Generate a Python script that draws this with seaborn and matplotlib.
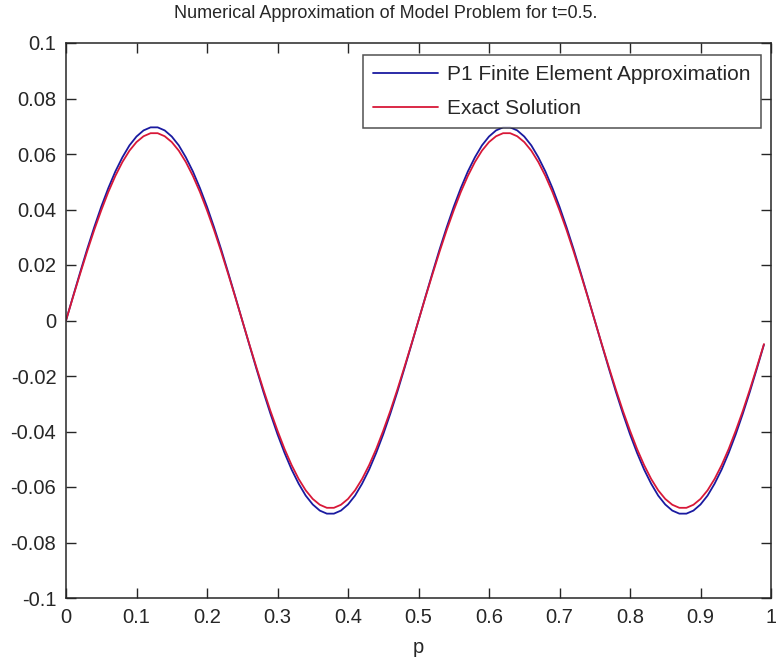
import numpy as np
import pandas as pd
import matplotlib
matplotlib.use("Agg")
import matplotlib.pyplot as plt
import seaborn as sns

# x nodes
x_vals = np.round(np.linspace(0.0, 0.99, 100), 2)

# P1 finite element approximation
fem_vals = [
    0.0000, 0.0087, 0.0173, 0.0257, 0.0336, 0.0410, 0.0477, 0.0537, 0.0588, 0.0631,
    0.0663, 0.0685, 0.0696, 0.0696, 0.0685, 0.0663, 0.0631, 0.0588, 0.0537, 0.0477,
    0.0410, 0.0336, 0.0257, 0.0173, 0.0087,
    0.0000, -0.0087, -0.0173, -0.0257, -0.0336, -0.0410, -0.0477, -0.0537, -0.0588, -0.0631,
    -0.0663, -0.0685, -0.0696, -0.0696, -0.0685, -0.0663, -0.0631, -0.0588, -0.0537, -0.0477,
    -0.0410, -0.0336, -0.0257, -0.0173, -0.0087,
    0.0000, 0.0087, 0.0173, 0.0257, 0.0336, 0.0410, 0.0477, 0.0537, 0.0588, 0.0631,
    0.0663, 0.0685, 0.0696, 0.0696, 0.0685, 0.0663, 0.0631, 0.0588, 0.0537, 0.0477,
    0.0410, 0.0336, 0.0257, 0.0173, 0.0087,
    0.0000, -0.0087, -0.0173, -0.0257, -0.0336, -0.0410, -0.0477, -0.0537, -0.0588, -0.0631,
    -0.0663, -0.0685, -0.0696, -0.0696, -0.0685, -0.0663, -0.0631, -0.0588, -0.0537, -0.0477,
    -0.0410, -0.0336, -0.0257, -0.0173, -0.0087,
]

# Exact solution
exact_vals = [
    0.0000, 0.0085, 0.0168, 0.0249, 0.0326, 0.0397, 0.0463, 0.0521, 0.0571, 0.0612,
    0.0643, 0.0664, 0.0675, 0.0675, 0.0664, 0.0643, 0.0612, 0.0571, 0.0521, 0.0463,
    0.0397, 0.0326, 0.0249, 0.0168, 0.0085,
    0.0000, -0.0085, -0.0168, -0.0249, -0.0326, -0.0397, -0.0463, -0.0521, -0.0571, -0.0612,
    -0.0643, -0.0664, -0.0675, -0.0675, -0.0664, -0.0643, -0.0612, -0.0571, -0.0521, -0.0463,
    -0.0397, -0.0326, -0.0249, -0.0168, -0.0085,
    0.0000, 0.0085, 0.0168, 0.0249, 0.0326, 0.0397, 0.0463, 0.0521, 0.0571, 0.0612,
    0.0643, 0.0664, 0.0675, 0.0675, 0.0664, 0.0643, 0.0612, 0.0571, 0.0521, 0.0463,
    0.0397, 0.0326, 0.0249, 0.0168, 0.0085,
    0.0000, -0.0085, -0.0168, -0.0249, -0.0326, -0.0397, -0.0463, -0.0521, -0.0571, -0.0612,
    -0.0643, -0.0664, -0.0675, -0.0675, -0.0664, -0.0643, -0.0612, -0.0571, -0.0521, -0.0463,
    -0.0397, -0.0326, -0.0249, -0.0168, -0.0085,
]

series_names = ["P1 Finite Element Approximation", "Exact Solution"]
x_ticks = [0, 0.1, 0.2, 0.3, 0.4, 0.5, 0.6, 0.7, 0.8, 0.9, 1]
x_tick_labels = ["0", "0.1", "0.2", "0.3", "0.4", "0.5", "0.6", "0.7", "0.8", "0.9", "1"]
y_ticks = [-0.1, -0.08, -0.06, -0.04, -0.02, 0, 0.02, 0.04, 0.06, 0.08, 0.1]
y_tick_labels = ["-0.1", "-0.08", "-0.06", "-0.04", "-0.02", "0", "0.02", "0.04", "0.06", "0.08", "0.1"]

df = pd.concat([
    pd.DataFrame({"p": x_vals, "u": fem_vals, "series": series_names[0]}),
    pd.DataFrame({"p": x_vals, "u": exact_vals, "series": series_names[1]}),
])

sns.set_theme(style="white")
plt.rcParams["font.family"] = ["Liberation Sans", "DejaVu Sans"]

W, H = 776, 666
fig = plt.figure(figsize=(W / 100, H / 100), dpi=100)
ax = fig.add_axes([66 / W, 1 - 598 / H, (771 - 66) / W, (598 - 43) / H])

sns.lineplot(data=df, x="p", y="u", hue="series", hue_order=series_names,
             palette=["#1a1aa0", "#d81838"], linewidth=1.3, ax=ax,
             sort=False, estimator=None)

ink = "#262626"
ax.set_xlim(0, 1)
ax.set_ylim(-0.1, 0.1)
ax.set_xticks(x_ticks)
ax.set_xticklabels(x_tick_labels)
ax.set_yticks(y_ticks)
ax.set_yticklabels(y_tick_labels)
ax.tick_params(direction="in", length=7, width=1, colors=ink,
               labelsize=14.5, labelcolor=ink, top=True, right=True,
               bottom=True, left=True)
ax.tick_params(axis="x", pad=7)
ax.tick_params(axis="y", pad=7)
for s in ax.spines.values():
    s.set_color(ink)
    s.set_linewidth(1.1)
ax.set_xlabel("p", fontsize=14.5, color=ink, labelpad=8)
ax.set_ylabel("")
fig.text(386 / W, 1 - 13 / H, "Numerical Approximation of Model Problem for t=0.5.",
         fontsize=13, color=ink, ha="center", va="center")

leg = ax.legend(loc="upper right", bbox_to_anchor=(761 / W, 1 - 55 / H),
                bbox_transform=fig.transFigure, fontsize=15, frameon=True,
                fancybox=False, edgecolor=ink, handlelength=3.1, borderpad=0.5,
                labelspacing=0.7, borderaxespad=0.0, handletextpad=0.45)
leg.get_frame().set_linewidth(1.1)
for line in leg.get_lines():
    line.set_linewidth(1.3)

fig.savefig("out.png", dpi=100, facecolor="white")
